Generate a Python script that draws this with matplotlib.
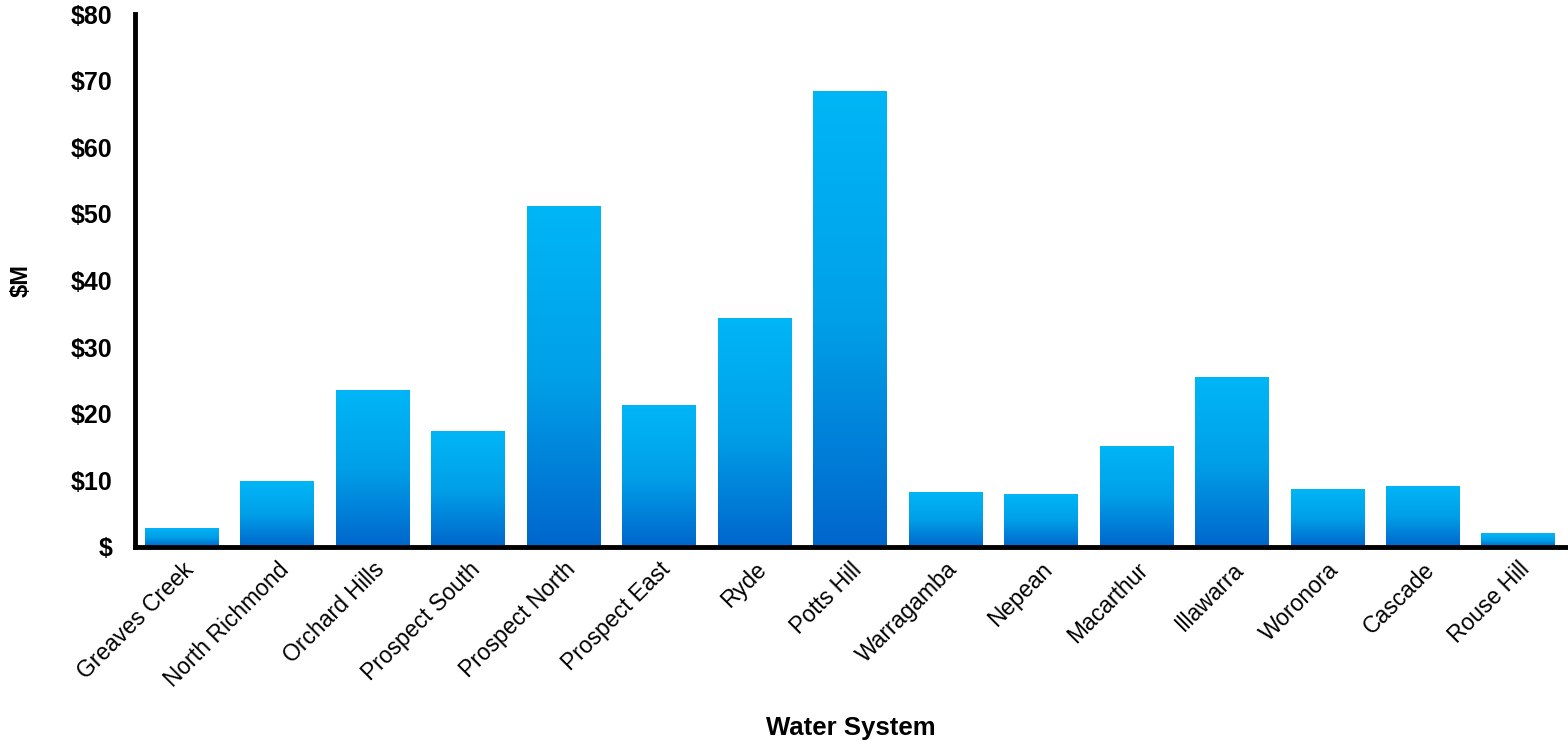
import matplotlib.pyplot as plt
import numpy as np
from matplotlib.colors import LinearSegmentedColormap

# Capital spend by water system ($M)
systems = ["Greaves Creek", "North Richmond", "Orchard Hills", "Prospect South",
           "Prospect North", "Prospect East", "Ryde", "Potts Hill", "Warragamba",
           "Nepean", "Macarthur", "Illawarra", "Woronora", "Cascade", "Rouse Hill"]
spend = [2.9, 9.9, 23.6, 17.4, 51.2, 21.3, 34.4, 68.5, 8.3, 8.0, 15.2, 25.5, 8.7, 9.2, 2.1]
y_ticks = [0, 10, 20, 30, 40, 50, 60, 70, 80]
y_labels = ["$" if v == 0 else f"${v}" for v in y_ticks]

plt.rcParams['font.family'] = ['Liberation Sans', 'DejaVu Sans']

fig = plt.figure(figsize=(15.68, 7.45), dpi=100)
ax = fig.add_axes([0.0861, 0.2658, 0.9126, 0.7154])

x = np.arange(len(systems))
bars = ax.bar(x, spend, width=0.77, color='none', edgecolor='none', zorder=2)

# vertical gradient fill inside each bar: darker blue at the base, light blue on top
cmap = LinearSegmentedColormap.from_list("blue_grad", ["#0066CC", "#00A0E8", "#00B6F6"])
grad = np.linspace(0, 1, 256).reshape(-1, 1)
for b in bars:
    x0, w, h = b.get_x(), b.get_width(), b.get_height()
    im = ax.imshow(grad, cmap=cmap, origin='lower', aspect='auto',
                   extent=(x0, x0 + w, 0, h), zorder=2, interpolation='bilinear')
    im.set_clip_path(b)

ax.set_xlim(-0.49, len(systems) - 0.5)
ax.set_ylim(0, 80)

ax.set_yticks(y_ticks)
ax.set_yticklabels(y_labels, fontsize=18, fontweight='bold')
ax.set_xticks(x)
ax.set_xticklabels(systems, rotation=45, ha='right', rotation_mode='anchor', fontsize=16.5)
ax.tick_params(axis='y', length=0, pad=16)
ax.tick_params(axis='x', length=0, pad=8)

for side in ['top', 'right']:
    ax.spines[side].set_visible(False)
for side in ['left', 'bottom']:
    ax.spines[side].set_linewidth(3.5)
    ax.spines[side].set_zorder(3)

ax.set_ylabel("$M", fontsize=17, fontweight='bold', labelpad=28)
ax.set_xlabel("Water System", fontsize=18.5, fontweight='bold', labelpad=18)

fig.savefig("out.png", dpi=100)
